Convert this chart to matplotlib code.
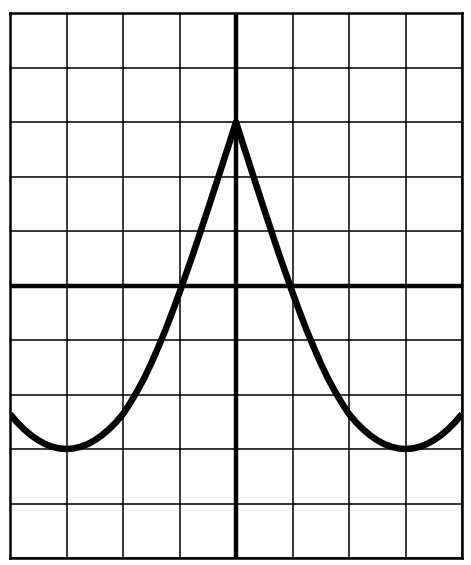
import matplotlib
matplotlib.use("Agg")
import matplotlib.pyplot as plt

# right half of the curve (curve is symmetric about x = 0)
half_x = [0.0, 0.125, 0.25, 0.375, 0.5, 0.625, 0.75, 0.875, 1.0, 1.125, 1.25, 1.375,
          1.5, 1.625, 1.75, 1.875, 2.0, 2.125, 2.25, 2.375, 2.5, 2.625, 2.75, 2.875,
          3.0, 3.125, 3.25, 3.375, 3.5, 3.625, 3.75, 3.875, 4.0]
half_y = [3.0, 2.59, 2.19, 1.79, 1.39, 1.0, 0.61, 0.24, -0.13, -0.48, -0.82, -1.13,
          -1.43, -1.70, -1.94, -2.16, -2.36, -2.51, -2.64, -2.75, -2.84, -2.91, -2.96, -2.99,
          -3.0, -2.99, -2.96, -2.91, -2.84, -2.75, -2.64, -2.51, -2.36]

xs = [-v for v in half_x[::-1]] + half_x[1:]
ys = half_y[::-1] + half_y[1:]

fig = plt.figure(figsize=(4.71, 5.65), dpi=100)
ax = fig.add_axes([10 / 471, 7 / 565, 452 / 471, 545 / 565])

for gx in range(-4, 5):
    ax.axvline(gx, color="black", linewidth=1.1, zorder=1)
for gy in range(-5, 6):
    ax.axhline(gy, color="black", linewidth=1.1, zorder=1)

ax.axvline(0, color="black", linewidth=3.2, zorder=2)
ax.axhline(0, color="black", linewidth=3.2, zorder=2)

ax.plot(xs, ys, color="black", linewidth=4.7, solid_joinstyle="round", solid_capstyle="butt", zorder=3)

ax.set_xlim(-4, 4)
ax.set_ylim(-5, 5)
ax.set_xticks([])
ax.set_yticks([])
for s in ax.spines.values():
    s.set_linewidth(1.8)

fig.savefig("out.png", dpi=100)
